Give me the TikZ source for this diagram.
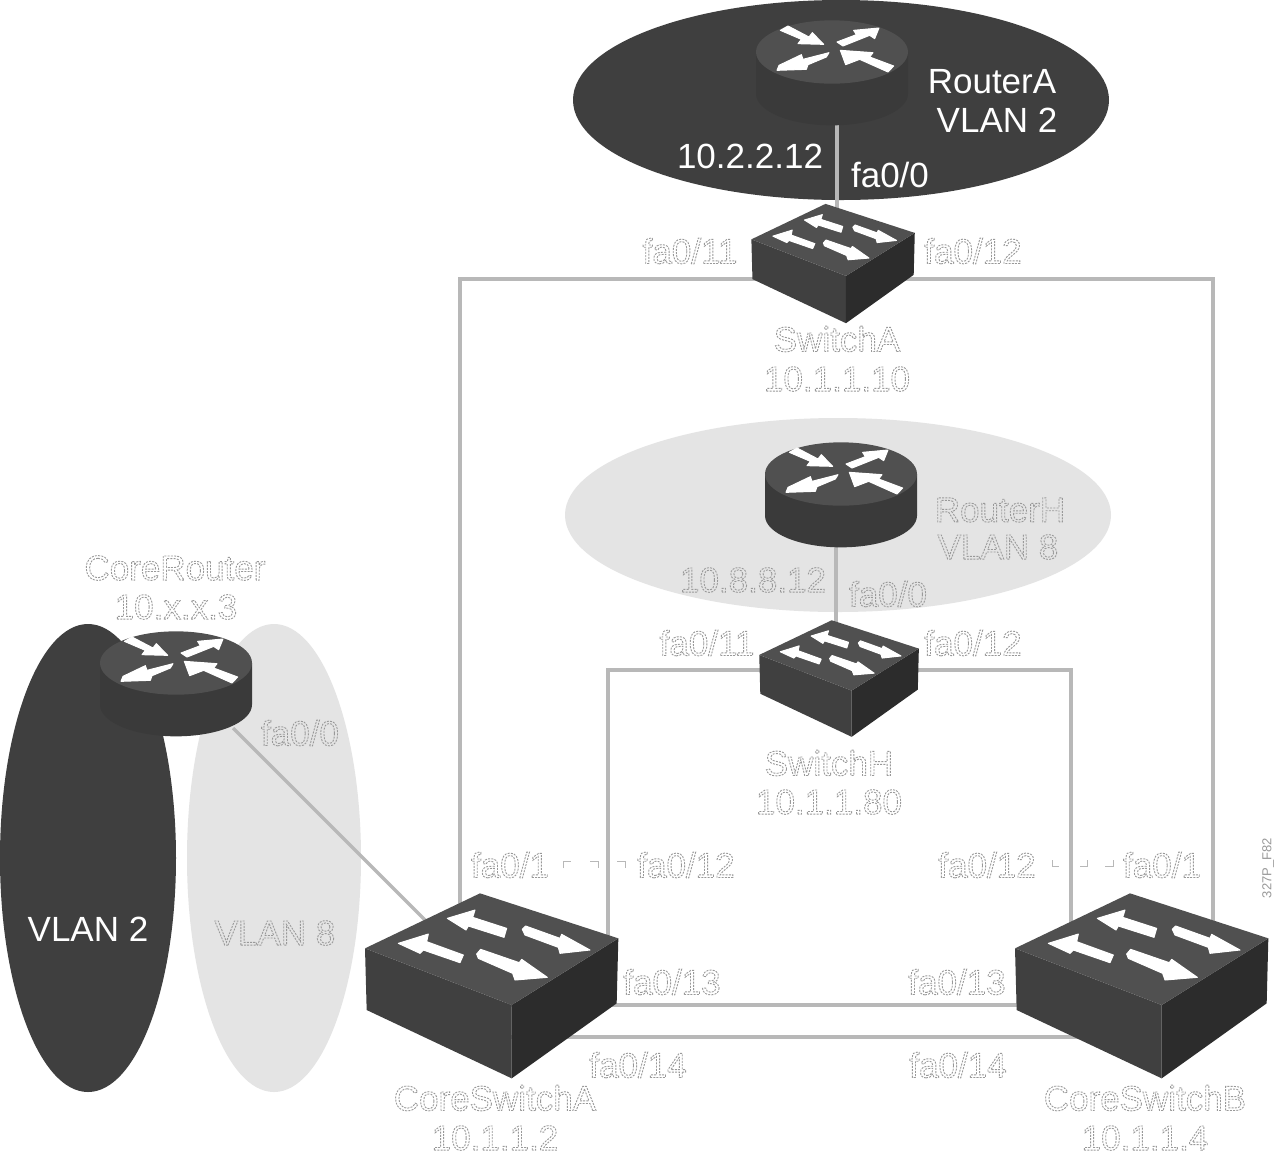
\documentclass[tikz,border=0pt]{standalone}
\usepackage{fontspec}
\setmainfont{Liberation Sans}
\definecolor{darkfill}{HTML}{3F3F3F}
\definecolor{lightfill}{HTML}{E4E4E4}
\definecolor{devtop}{HTML}{505050}
\definecolor{devleft}{HTML}{404040}
\definecolor{devright}{HTML}{2C2C2C}
\definecolor{routerside}{HTML}{3A3A3A}
\definecolor{linkgray}{HTML}{B8B8B8}
% hollow text: stroked, broken outlines in grey
\newcommand{\hollow}[1]{\special{pdf:code q 1 Tr 0.9 w 0.6 G [2 1.2] 0 d}#1\special{pdf:code Q}}
\tikzset{
  link/.style={draw=linkgray,line width=3.2pt},
  devbox/.style={inner sep=0pt,outer sep=0pt,minimum width=150pt,minimum height=100pt},
  lbl/.style={inner sep=0pt,font=\fontsize{35}{39}\selectfont,align=center},
  whitelbl/.style={lbl,text=white},
  iconarrow/.style={fill=white,draw=white,line width=1pt,line join=round},
  pics/switchicon/.style={code={
    \fill[devleft] (-375,-110) -- (65,60) -- (65,280) -- (-370,75) -- cycle;
    \fill[devright] (65,60) -- (385,-140) -- (380,55) -- (65,280) -- cycle;
    \fill[devtop] (-375,-110) -- (-30,-275) -- (385,-140) -- (65,60) -- cycle;
    \path[iconarrow] (-128,-200) -- (-45,-225) -- (-52,-203) -- (50,-170) -- (42,-143) -- (-65,-177) -- (-72,-165) -- cycle;
    \path[iconarrow] (97,-167) -- (107,-177) -- (210,-140) -- (215,-152) -- (300,-105) -- (210,-95) -- (205,-113) -- (105,-150) -- cycle;
    \path[iconarrow] (-275,-125) -- (-185,-153) -- (-190,-130) -- (-80,-90) -- (-90,-67) -- (-200,-105) -- (-210,-95) -- cycle;
    \path[iconarrow] (-40,-93) -- (-28,-107) -- (88,-67) -- (95,-77) -- (172,-23) -- (75,-15) -- (68,-35) -- (-35,-80) -- cycle;
  }},
  pics/routericon/.style={code={
    \fill[routerside] (-228,0) -- (-228,125) arc[start angle=180,end angle=360,x radius=228,y radius=-95] -- (228,0) -- cycle;
    \fill[devtop] (0,0) ellipse[x radius=228,y radius=95];
    \path[iconarrow] (-132,-78) -- (-69,-45) -- (-59,-58) -- (-25,-23) -- (-102,-25) -- (-92,-38) -- (-155,-65) -- cycle;
    \path[iconarrow] (15,-30) -- (73,-52) -- (65,-65) -- (141,-72) -- (128,-40) -- (113,-50) -- (33,-18) -- cycle;
    \path[iconarrow] (-9,2) -- (-87,22) -- (-92,8) -- (-159,40) -- (-165,55) -- (-77,52) -- (-72,38) -- (-17,15) -- cycle;
    \path[iconarrow] (25,-5) -- (123,2) -- (113,15) -- (185,42) -- (168,60) -- (83,22) -- (41,38) -- cycle;
  }}
}
\begin{document}
\begin{tikzpicture}[x=1pt,y=-1pt]
\useasboundingbox (0,0) rectangle (1280,1163);
\fill[white] (0,0) rectangle (1280,1163);

% VLAN zones
\fill[darkfill] (841,100) ellipse[x radius=268,y radius=100];
\fill[lightfill] (838,515) ellipse[x radius=273,y radius=97];
\fill[darkfill] (88,858) ellipse[x radius=88,y radius=234];
\fill[lightfill] (274,858) ellipse[x radius=87,y radius=234];

% device placeholders (connectors run between these)
\node[devbox] (routerA) at (832,85) {};
\node[devbox] (switchA) at (835,263) {};
\node[devbox] (routerH) at (841,491) {};
\node[devbox] (switchH) at (840,678) {};
\node[devbox] (coreRouter) at (176,685) {};
\node[devbox] (coreA) at (490,985) {};
\node[devbox] (coreB) at (1140,985) {};

% bends
\coordinate (bAL) at (460,279);
\coordinate (bAR) at (1213,279);
\coordinate (bHL) at (608,670);
\coordinate (bHR) at (1071,670);
\coordinate (p13) at (800,1005);
\coordinate (p14) at (800,1037);
\coordinate (upA) at (837,100);
\coordinate (upH) at (836,500);
\coordinate (crA) at (233,728);

% connectors
\draw[link] (upA |- routerA) -- (upA |- switchA);
\draw[link] (upH |- routerH) -- (upH |- switchH);
\draw[link] (switchA |- bAL) -- (bAL) -- (bAL |- coreA);
\draw[link] (switchA |- bAR) -- (bAR) -- (bAR |- coreB);
\draw[link] (switchH |- bHL) -- (bHL) -- (bHL |- coreA);
\draw[link] (switchH |- bHR) -- (bHR) -- (bHR |- coreB);
\draw[link] (coreA |- p13) -- (coreB |- p13);
\draw[link] (coreA |- p14) -- (coreB |- p14);
\draw[link] (crA) -- (coreA);

% icons
\pic[scale=1/3] at (832,52) {routericon};
\pic[scale=1/3] at (841,474) {routericon};
\pic[scale=1/3] at (176,663) {routericon};
\pic[scale=0.215] at (832,263) {switchicon};
\pic[scale=0.21] at (838,678) {switchicon};
\pic[scale=1/3] at (490,985) {switchicon};
\pic[scale=1/3] at (1140,985) {switchicon};

% stray marks
\draw[linkgray,line width=1pt]
  (563,868) -- (563,861) -- (571,861)
  (590,861) -- (598,861) -- (598,868)
  (617,861) -- (625,861) -- (625,868)
  (1052,860) -- (1052,866) -- (1059,866)
  (1080,866) -- (1087,866) -- (1087,860)
  (1105,866) -- (1113,866) -- (1113,860);

% white labels on dark
\node[whitelbl] (tRA) at (992,82) {RouterA};
\node[whitelbl] (tVA) at (997,120) {VLAN 2};
\node[whitelbl] (tIPA) at (750,156) {10.2.2.12};
\node[whitelbl] (tFA) at (890,175) {fa0/0};
\node[whitelbl] (tV2) at (88,929) {VLAN 2};

% hollow labels
\node[lbl] (t1) at (690,251) {\hollow{fa0/11}};
\node[lbl] (t2) at (973,251) {\hollow{fa0/12}};
\node[lbl] (t3) at (837,339) {\hollow{SwitchA}};
\node[lbl] (t4) at (837,379) {\hollow{10.1.1.10}};
\node[lbl] (t5) at (1000,510) {\hollow{RouterH}};
\node[lbl] (t6) at (998,547) {\hollow{VLAN 8}};
\node[lbl] (t7) at (753,580) {\hollow{10.8.8.12}};
\node[lbl] (t8) at (888,594) {\hollow{fa0/0}};
\node[lbl] (t9) at (707,643) {\hollow{fa0/11}};
\node[lbl] (t10) at (973,643) {\hollow{fa0/12}};
\node[lbl] (t11) at (829,763) {\hollow{SwitchH}};
\node[lbl] (t12) at (829,802) {\hollow{10.1.1.80}};
\node[lbl] (t13) at (175,568) {\hollow{CoreRouter}};
\node[lbl] (t14) at (176,607) {\hollow{10.x.x.3}};
\node[lbl] (t15) at (300,733) {\hollow{fa0/0}};
\node[lbl] (t16) at (275,933) {\hollow{VLAN 8}};
\node[lbl] (t17) at (510,865) {\hollow{fa0/1}};
\node[lbl] (t18) at (686,865) {\hollow{fa0/12}};
\node[lbl] (t19) at (987,865) {\hollow{fa0/12}};
\node[lbl] (t20) at (1162,865) {\hollow{fa0/1}};
\node[lbl] (t21) at (672,982) {\hollow{fa0/13}};
\node[lbl] (t22) at (957,982) {\hollow{fa0/13}};
\node[lbl] (t23) at (638,1065) {\hollow{fa0/14}};
\node[lbl] (t24) at (958,1065) {\hollow{fa0/14}};
\node[lbl] (t25) at (495,1098) {\hollow{CoreSwitchA}};
\node[lbl] (t26) at (495,1138) {\hollow{10.1.1.2}};
\node[lbl] (t27) at (1145,1098) {\hollow{CoreSwitchB}};
\node[lbl] (t28) at (1145,1138) {\hollow{10.1.1.4}};
\node[inner sep=0pt,rotate=90,font=\fontsize{13}{15}\selectfont,text=gray!80] (code) at (1268,868) {327P\_F82};
\end{tikzpicture}
\end{document}
